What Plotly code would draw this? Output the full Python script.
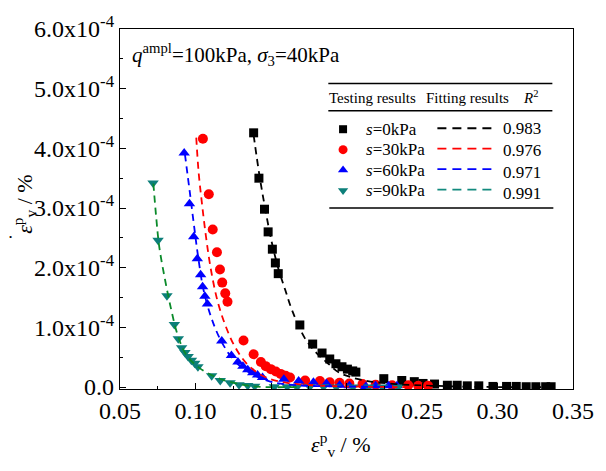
import plotly.graph_objects as go

SCALE = 1e-4
# ---- test data (y in units of 1e-4 %) ----
s0_x = [0.1385, 0.142, 0.1457, 0.1481, 0.1509, 0.1529, 0.1548, 0.1691, 0.1776, 0.1838, 0.1889, 0.1930,
        0.1970, 0.2006, 0.2041, 0.2062, 0.2247, 0.2366, 0.2449, 0.2507, 0.2583, 0.2668, 0.2733, 0.280,
        0.2876, 0.297, 0.306, 0.3124, 0.319, 0.3254, 0.3319, 0.3355]
s0_y = [4.26, 3.50, 2.98, 2.60, 2.31, 2.08, 1.90, 1.04, 0.72, 0.57, 0.47, 0.39,
        0.34, 0.30, 0.27, 0.25, 0.14, 0.11, 0.09, 0.06, 0.05, 0.03, 0.03, 0.02,
        0.02, 0.01, 0.01, 0.01, 0.005, 0.005, 0.005, 0.005]

s30_x = [0.1049, 0.1088, 0.1114, 0.1142, 0.1162, 0.1177, 0.1197, 0.1212, 0.1318, 0.1385, 0.1433, 0.1465,
         0.1499, 0.1532, 0.1564, 0.1597, 0.1626, 0.1726, 0.1824, 0.1889, 0.1954, 0.2019, 0.2106, 0.2193,
         0.2302, 0.2409, 0.2475, 0.254]
s30_y = [4.16, 3.23, 2.64, 2.26, 1.97, 1.75, 1.57, 1.43, 0.78, 0.55, 0.42, 0.35,
         0.30, 0.26, 0.22, 0.19, 0.16, 0.11, 0.10, 0.08, 0.07, 0.06, 0.05, 0.04,
         0.03, 0.03, 0.02, 0.02]

s60_x = [0.0925, 0.096, 0.0988, 0.1012, 0.1034, 0.1047, 0.1062, 0.1079, 0.1174, 0.1238, 0.1281, 0.1314,
         0.1346, 0.1379, 0.1411, 0.1444, 0.1585, 0.1683, 0.1781, 0.1867, 0.1954, 0.2019, 0.2128, 0.2193,
         0.2279, 0.2334]
s60_y = [3.92, 3.07, 2.52, 2.15, 1.88, 1.68, 1.52, 1.39, 0.77, 0.53, 0.42, 0.35,
         0.29, 0.24, 0.20, 0.16, 0.13, 0.10, 0.08, 0.06, 0.03, 0.02, 0.01, 0.02,
         0.02, 0.02]

s90_x = [0.0719, 0.0752, 0.0811, 0.086, 0.0886, 0.0908, 0.093, 0.0951, 0.0973, 0.0995, 0.1016, 0.1107,
         0.1164, 0.1229, 0.1288, 0.1346, 0.1392, 0.1522, 0.1607, 0.1672, 0.1757, 0.1848, 0.1932, 0.2043,
         0.2147, 0.2238, 0.2342]
s90_y = [3.42, 2.46, 1.53, 1.05, 0.81, 0.66, 0.58, 0.51, 0.45, 0.40, 0.34, 0.19,
         0.11, 0.07, 0.04, 0.025, 0.015, 0.005, 0.005, 0.0, 0.005, 0.005, 0.0, 0.0,
         0.0, 0.0, 0.0]

# ---- fitted curves ----
f0_x = [0.1385, 0.1424, 0.1463, 0.1503, 0.1548, 0.1594, 0.1639, 0.1724, 0.1802, 0.188, 0.1952, 0.205,
        0.2141, 0.2323, 0.2583, 0.2974, 0.3351]
f0_y = [4.22, 3.54, 2.97, 2.45, 1.99, 1.63, 1.29, 0.82, 0.57, 0.39, 0.24, 0.15,
        0.10, 0.05, 0.02, 0.0, 0.0]
f30_x = [0.1005, 0.1021, 0.1044, 0.107, 0.1102, 0.1145, 0.1197, 0.1258, 0.134, 0.1451, 0.1607, 0.1867,
         0.2323, 0.2551]
f30_y = [4.18, 3.59, 3.05, 2.51, 1.97, 1.45, 1.04, 0.69, 0.39, 0.18, 0.07, 0.02, 0.0, 0.0]
f60_x = [0.093, 0.0965, 0.0995, 0.1017, 0.1053, 0.1105, 0.1170, 0.1258, 0.1366, 0.1496, 0.1672, 0.1997,
         0.2323]
f60_y = [3.90, 3.21, 2.61, 2.19, 1.63, 1.16, 0.77, 0.44, 0.23, 0.09, 0.03, 0.01, 0.0]
f90_x = [0.0721, 0.0741, 0.076, 0.0799, 0.0838, 0.0881, 0.0936, 0.1021, 0.1151, 0.1327, 0.1457, 0.1672]
f90_y = [3.41, 2.81, 2.35, 1.79, 1.31, 0.88, 0.55, 0.33, 0.15, 0.03, 0.0, 0.0]

series_labels = ["<i>s</i>=0kPa", "<i>s</i>=30kPa", "<i>s</i>=60kPa", "<i>s</i>=90kPa"]
r2_values = ["0.983", "0.976", "0.971", "0.991"]
x_ticks = [0.05, 0.10, 0.15, 0.20, 0.25, 0.30, 0.35]
y_ticks = [0, 1, 2, 3, 4, 5, 6]
y_ticktext = ["0.0"] + [f"{v:.1f}x10<sup>-4</sup>" for v in y_ticks[1:]]

marker_colors = ["#000000", "#ff0000", "#0000ff", "#0d7f7a"]
line_colors = ["#000000", "#ff0000", "#0000ff", "#0a8a2a"]
legend_dash_colors = ["#000000", "#ff0000", "#0000ff", "#138a7e"]
symbols = ["square", "circle", "triangle-up", "triangle-down"]
sizes = [9, 10, 10, 10]

FONT = "Liberation Serif, Times New Roman, serif"

fig = go.Figure()
data = [(s0_x, s0_y), (s30_x, s30_y), (s60_x, s60_y), (s90_x, s90_y)]
fits = [(f0_x, f0_y), (f30_x, f30_y), (f60_x, f60_y), (f90_x, f90_y)]

for i, (xs, ys) in enumerate(data):
    fig.add_trace(go.Scatter(x=xs, y=[v * SCALE for v in ys], mode="markers",
                             marker=dict(symbol=symbols[i], size=sizes[i], color=marker_colors[i],
                                         line=dict(width=0)),
                             showlegend=False))
for i, (xs, ys) in enumerate(fits):
    fig.add_trace(go.Scatter(x=xs, y=[v * SCALE for v in ys], mode="lines",
                             line=dict(color=line_colors[i], width=1.8, dash="7px,5px", shape="spline"),
                             showlegend=False))

# ---- legend table drawn on overlay axes (pixel-like 0..1 coordinates) ----
L, R, T, B = 120, 581, 19, 389
W, H = R - L, B - T
def px(x):
    return (x - L) / W
def py(y):
    return (B - y) / H

row_y = [122, 143, 164, 185]
r2_y = [121, 144, 166, 188]
for i in range(4):
    fig.add_trace(go.Scatter(x=[px(347)], y=[py(row_y[i])], xaxis="x2", yaxis="y2", mode="markers",
                             marker=dict(symbol=symbols[i], size=sizes[i] - 1, color=marker_colors[i]),
                             showlegend=False, hoverinfo="skip"))
    fig.add_trace(go.Scatter(x=[px(443), px(501)], y=[py(row_y[i] - 1)] * 2, xaxis="x2", yaxis="y2",
                             mode="lines", line=dict(color=legend_dash_colors[i], width=1.8, dash="9px,6px"),
                             showlegend=False, hoverinfo="skip"))

annotations = []
for i in range(4):
    annotations.append(dict(x=px(368), y=py(row_y[i]), xref="paper", yref="paper", text=series_labels[i],
                            showarrow=False, xanchor="left", yanchor="middle",
                            font=dict(family=FONT, size=17, color="black")))
    annotations.append(dict(x=px(529), y=py(r2_y[i]), xref="paper", yref="paper", text=r2_values[i],
                            showarrow=False, xanchor="center", yanchor="middle",
                            font=dict(family=FONT, size=17, color="black")))
annotations += [
    dict(x=px(377), y=py(90), xref="paper", yref="paper", text="Testing results", showarrow=False,
         xanchor="center", yanchor="middle", font=dict(family=FONT, size=15, color="black")),
    dict(x=px(474), y=py(90), xref="paper", yref="paper", text="Fitting results", showarrow=False,
         xanchor="center", yanchor="middle", font=dict(family=FONT, size=15, color="black")),
    dict(x=px(538), y=py(89), xref="paper", yref="paper", text="<i>R</i><sup>2</sup>", showarrow=False,
         xanchor="center", yanchor="middle", font=dict(family=FONT, size=15, color="black")),
    dict(x=px(130), y=py(45), xref="paper", yref="paper",
         text="<i>q</i><sup>ampl</sup>=100kPa, <i>σ</i><sub>3</sub>=40kPa", showarrow=False,
         xanchor="left", yanchor="middle", font=dict(family=FONT, size=21, color="black")),
    dict(x=px(22), y=py(199), xref="paper", yref="paper",
         text="<i>ε</i><sup>p</sup><sub>v</sub> / %", showarrow=False, textangle=-90,
         xanchor="center", yanchor="middle", font=dict(family=FONT, size=22, color="black")),
    # dot above the epsilon (rate symbol)
    dict(x=px(9), y=py(233), xref="paper", yref="paper", text="•", showarrow=False,
         xanchor="center", yanchor="middle", font=dict(family=FONT, size=9, color="black")),
    dict(x=px(345), y=py(446), xref="paper", yref="paper",
         text="<i>ε</i><sup>p</sup><sub>v</sub> / %", showarrow=False,
         xanchor="center", yanchor="middle", font=dict(family=FONT, size=22, color="black")),
]

shapes = [
    dict(type="line", xref="paper", yref="paper", x0=px(332), x1=px(560), y0=py(75), y1=py(75),
         line=dict(color="black", width=1.6)),
    dict(type="line", xref="paper", yref="paper", x0=px(332), x1=px(560), y0=py(103), y1=py(103),
         line=dict(color="black", width=1.6)),
    dict(type="line", xref="paper", yref="paper", x0=px(333), x1=px(561), y0=py(203), y1=py(203),
         line=dict(color="black", width=1.6)),
]

fig.update_layout(
    width=606, height=471,
    margin=dict(l=L, r=606 - R, t=T, b=471 - B),
    plot_bgcolor="white", paper_bgcolor="white",
    font=dict(family=FONT, size=24, color="black"),
    annotations=annotations, shapes=shapes,
    xaxis=dict(range=[0.05, 0.35], tickvals=x_ticks, ticktext=[f"{v:.2f}" for v in x_ticks],
               ticks="inside", ticklen=6, tickwidth=1.2, tickcolor="black",
               showline=True, linecolor="black", linewidth=1.3, mirror=True, showgrid=False,
               zeroline=False, tickfont=dict(family=FONT, size=24),
               minor=dict(tickmode="linear", tick0=0.05, dtick=0.025, ticks="inside", ticklen=3,
                          tickcolor="black", showgrid=False)),
    yaxis=dict(range=[-0.033 * SCALE, 6 * SCALE], tickvals=[v * SCALE for v in y_ticks], ticktext=y_ticktext,
               ticks="inside", ticklen=6, tickwidth=1.2, tickcolor="black",
               showline=True, linecolor="black", linewidth=1.3, mirror=True, showgrid=False,
               zeroline=False, tickfont=dict(family=FONT, size=24),
               minor=dict(tickmode="linear", tick0=0, dtick=0.5 * SCALE, ticks="inside", ticklen=3,
                          tickcolor="black", showgrid=False)),
    xaxis2=dict(range=[0, 1], overlaying="x", visible=False, fixedrange=True),
    yaxis2=dict(range=[0, 1], overlaying="y", visible=False, fixedrange=True),
)

fig.write_html("out.html")
